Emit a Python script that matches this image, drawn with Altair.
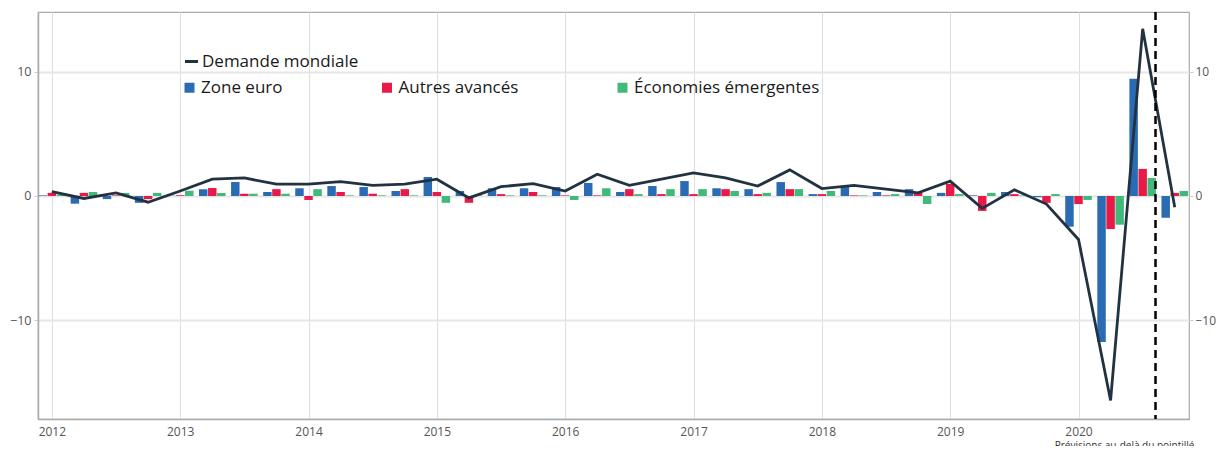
import altair as alt
import pandas as pd

# ---- Data (quarterly, 2012T1 .. 2020T4) ----
annees = [2012, 2013, 2014, 2015, 2016, 2017, 2018, 2019, 2020]
trimestres = [1, 2, 3, 4]

zone_euro = [0.05, -0.62, -0.25, -0.55, 0.02, 0.55, 1.12, 0.32, 0.62, 0.80, 0.72, 0.40,
             1.53, 0.40, 0.62, 0.62, 0.72, 1.05, 0.32, 0.80, 1.20, 0.62, 0.55, 1.12,
             0.15, 0.80, 0.32, 0.55, 0.25, 0.05, 0.32, -0.10, -2.47, -11.75, 9.43, -1.75]
autres_avances = [0.25, 0.25, 0.05, -0.25, 0.05, 0.65, 0.18, 0.55, -0.32, 0.32, 0.18, 0.55,
                  0.32, -0.55, 0.15, 0.32, 0.05, 0.05, 0.55, 0.15, 0.15, 0.55, 0.15, 0.55,
                  0.15, 0.05, 0.05, 0.25, 0.97, -1.20, 0.15, -0.55, -0.65, -2.66, 2.18, 0.25]
emergentes = [0.10, 0.32, 0.25, 0.25, 0.42, 0.25, 0.18, 0.18, 0.55, 0.05, 0.05, 0.05,
              -0.55, 0.05, 0.05, 0.05, -0.32, 0.62, 0.15, 0.55, 0.55, 0.40, 0.25, 0.55,
              0.40, 0.05, 0.15, -0.65, 0.15, 0.25, 0.05, 0.15, -0.32, -2.31, 1.45, 0.40]
demande_mondiale = [0.35, -0.20, 0.25, -0.50, 0.40, 1.35, 1.45, 0.95, 0.95, 1.15, 0.85, 0.95,
                    1.35, -0.15, 0.75, 1.00, 0.40, 1.75, 0.85, 1.35, 1.85, 1.45, 0.80, 2.10,
                    0.60, 0.85, 0.55, 0.25, 1.20, -1.00, 0.50, -0.65, -3.50, -16.45, 13.45, -0.90]

series = ["Zone euro", "Autres avancés", "Économies émergentes"]
couleurs = ["#2a6bb4", "#e81a48", "#3fba7a"]
ligne_nom = "Demande mondiale"
ligne_couleur = "#233240"
prevision = 2020.6  # début des prévisions (pointillé)

titre = "Variations trimestrielles en % contributions en points"
note = "Prévisions au-delà du pointillé"

# ---- Tables ----
temps = [a + (q - 1) / 4 for a in annees for q in trimestres]

rows = []
for k, (nom, vals) in enumerate(zip(series, [zone_euro, autres_avances, emergentes])):
    for t, v in zip(temps, vals):
        rows.append({"t": t, "serie": nom, "k": k, "valeur": v})
df_bars = pd.DataFrame(rows)
df_line = pd.DataFrame({"t": temps, "valeur": demande_mondiale, "nom": ligne_nom})
df_rule = pd.DataFrame({"t": [prevision]})

FONT = "Open Sans"
xscale = alt.Scale(domain=[2011.892, 2020.861], nice=False, zero=False)
yscale = alt.Scale(domain=[-17.94, 14.8], nice=False, zero=False)

bars = alt.Chart(df_bars).transform_calculate(
    x0="datum.t + (datum.k - 1) * 0.0705 - 0.033",
    x1="datum.t + (datum.k - 1) * 0.0705 + 0.033",
).mark_bar().encode(
    x=alt.X("x0:Q", scale=xscale,
            axis=alt.Axis(values=annees, format="d", grid=True, gridColor="#dedede",
                          gridWidth=1, ticks=False, labelPadding=7, labelFontSize=12,
                          labelColor="#555", domainColor="#aaa", domainWidth=1.5,
                          title=note, titleFontSize=10, titleFontWeight="normal",
                          titleColor="#333", titleAnchor="end", titleAlign="right",
                          titleBaseline="top", titleX=1156, titleY=21)),
    x2="x1:Q",
    y=alt.Y("valeur:Q", scale=yscale,
            axis=alt.Axis(values=[-10, 0, 10], grid=True, gridColor="#e6e6e6", gridWidth=2,
                          tickColor="#cccccc", tickSize=4, labelFontSize=12.5,
                          labelColor="#555", labelPadding=3, domainColor="#aaa",
                          domainWidth=1.5, title=None)),
    y2=alt.datum(0),
    fill=alt.Fill("serie:N", scale=alt.Scale(domain=series, range=couleurs),
                  legend=alt.Legend(title=None, orient="none", legendX=143, legendY=67,
                                    direction="horizontal", columns=3, columnPadding=95.5,
                                    symbolType="square", symbolSize=100, symbolStrokeWidth=0,
                                    labelFontSize=17, labelFont=FONT, labelColor="#1a1a1a",
                                    labelOffset=3, labelLimit=400, padding=0)),
)

line = alt.Chart(df_line).mark_line(strokeWidth=2.8).encode(
    x=alt.X("t:Q", scale=xscale),
    y=alt.Y("valeur:Q", scale=yscale,
            axis=alt.Axis(orient="right", values=[-10, 0, 10], grid=False,
                          tickColor="#cccccc", tickSize=4, labelFontSize=12,
                          labelColor="#555", labelPadding=2, domain=False, title=None)),
    stroke=alt.Stroke("nom:N", scale=alt.Scale(domain=[ligne_nom], range=[ligne_couleur]),
                      legend=alt.Legend(title=None, orient="none", legendX=145, legendY=41,
                                        symbolType="stroke", symbolSize=169,
                                        symbolStrokeWidth=3, labelFontSize=17,
                                        labelFont=FONT, labelColor="#1a1a1a",
                                        labelOffset=2, labelLimit=400, padding=0)),
)

rule = alt.Chart(df_rule).mark_rule(color="black", strokeWidth=2.5, strokeDash=[8, 5]).encode(
    x=alt.X("t:Q", scale=xscale)
)

chart = alt.layer(bars, line, rule).resolve_axis(y="independent").properties(
    width=1151, height=407,
    autosize=alt.AutoSizeParams(type="none"),
    padding={"left": 30, "top": 4, "right": 28, "bottom": 27},
    title=alt.Title(titre, fontSize=15, color="#555", fontWeight="normal", font=FONT,
                    anchor="middle", offset=1, baseline="bottom"),
).configure_view(stroke="#aaa", strokeWidth=1.2).configure_axis(
    labelFont=FONT, titleFont=FONT
)

chart.save("out.html", embed_options={"renderer": "svg", "actions": False})
